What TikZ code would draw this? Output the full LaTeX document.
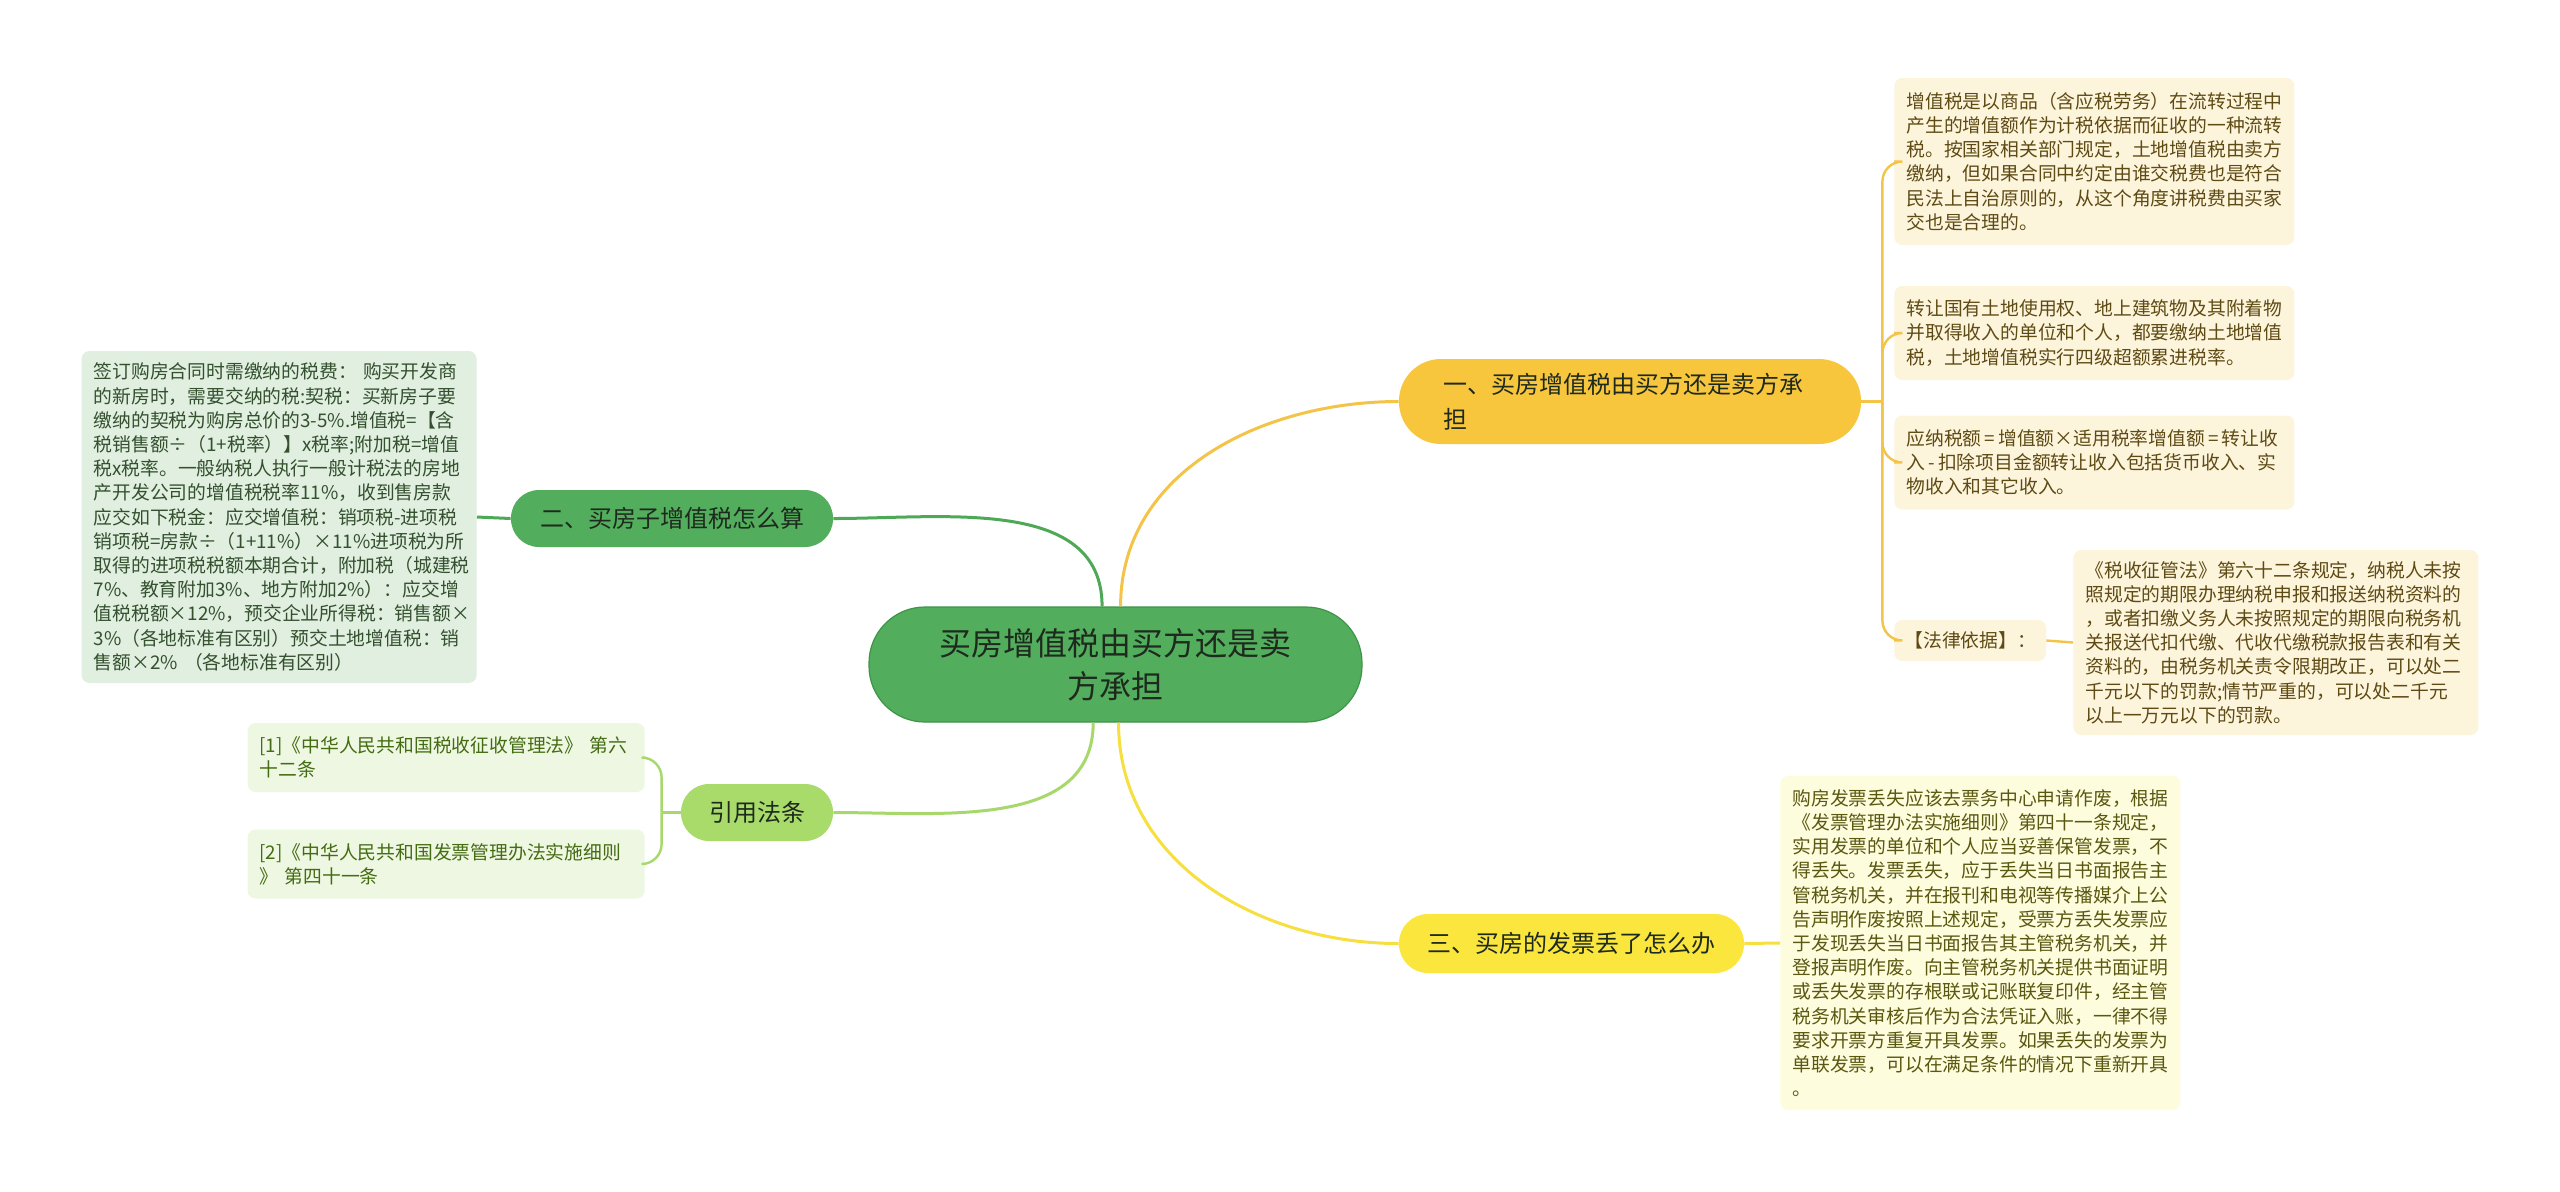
\documentclass[tikz,border=0pt]{standalone}
\usepackage{fontspec}
\setmainfont{Noto Sans CJK SC}
\usepackage{tikz}
\usetikzlibrary{calc}
\definecolor{rootGreen}{HTML}{52AE5C}
\definecolor{rootEdge}{HTML}{3E9447}
\definecolor{darkText}{HTML}{1E2A1E}
\definecolor{goldTopic}{HTML}{F8C63D}
\definecolor{yellowTopic}{HTML}{FAE63C}
\definecolor{limeTopic}{HTML}{A9DB6B}
\definecolor{goldLine}{HTML}{F3C447}
\definecolor{greenLine}{HTML}{4EA957}
\definecolor{yellowLine}{HTML}{F6E040}
\definecolor{limeLine}{HTML}{A7D86C}
\definecolor{creamLeaf}{HTML}{FDF4DC}
\definecolor{paleLeaf}{HTML}{FDFCDD}
\definecolor{mintLeaf}{HTML}{E0EFDF}
\definecolor{limeLeaf}{HTML}{EEF7E2}
\definecolor{brownText}{HTML}{5E4B14}
\definecolor{oliveText}{HTML}{5A5810}
\definecolor{mossText}{HTML}{34502F}
\definecolor{limeText}{HTML}{446C12}

\begin{document}
\begin{tikzpicture}[x=0.5pt, y=-0.5pt,
    rootnode/.style={fill=rootGreen, draw=rootEdge, line width=0.6pt, rounded corners=28pt,
        minimum width=246.5pt, minimum height=57.5pt, text width=180pt, align=center,
        inner sep=0pt, text=darkText, font=\fontsize{16}{21.5}\selectfont},
    topicnode/.style={inner sep=0pt, align=center, text=darkText,
        font=\fontsize{12}{17.5}\selectfont},
    leafnode/.style={rounded corners=4pt, inner xsep=6pt, inner ysep=0pt, align=left,
        text width=188pt, font=\fontsize{9.4}{12.1}\selectfont},
    link/.style={line width=1.5pt},
    brace/.style={line width=1.2pt, rounded corners=10pt}
]
\fill[white] (0,0) rectangle (2560,1191);
\useasboundingbox (0,0) rectangle (2560,1191);

% centre
\node[rootnode] (root) at (1115.5,664.5) {买房增值税由买方还是卖\\方承担};

% topics
\node[topicnode, fill=goldTopic, minimum width=231pt, minimum height=42.5pt,
    rounded corners=21pt, text width=187pt, align=left] (vat) at (1630,401.5)
    {一、买房增值税由买方还是卖方承\\担};
\node[topicnode, fill=rootGreen, minimum width=161pt, minimum height=28.5pt,
    rounded corners=14pt] (calc) at (672,518.5) {二、买房子增值税怎么算};
\node[topicnode, fill=yellowTopic, minimum width=172.5pt, minimum height=29.5pt,
    rounded corners=14.5pt] (invoice) at (1571.5,943.5) {三、买房的发票丢了怎么办};
\node[topicnode, fill=limeTopic, minimum width=76pt, minimum height=28.5pt,
    rounded corners=14pt] (refs) at (757,812.5) {引用法条};

% leaves of topic one
\node[leafnode, fill=creamLeaf, text=brownText, minimum height=83.5pt, anchor=west]
    (vatdef) at (1894,161.5)
    {增值税是以商品（含应税劳务）在流转过程中\\产生的增值额作为计税依据而征收的一种流转\\税。按国家相关部门规定，土地增值税由卖方\\缴纳，但如果合同中约定由谁交税费也是符合\\民法上自治原则的，从这个角度讲税费由买家\\交也是合理的。};
\node[leafnode, fill=creamLeaf, text=brownText, minimum height=47pt, anchor=west]
    (landtax) at (1894,333)
    {转让国有土地使用权、地上建筑物及其附着物\\并取得收入的单位和个人，都要缴纳土地增值\\税，土地增值税实行四级超额累进税率。};
\node[leafnode, fill=creamLeaf, text=brownText, minimum height=47pt, anchor=west]
    (formula) at (1894,462.5)
    {应纳税额\,=\,增值额×适用税率增值额\,=\,转让收\\入\,-\,扣除项目金额转让收入包括货币收入、实\\物收入和其它收入。};
\node[leafnode, fill=creamLeaf, text=brownText, text width=, inner xsep=5pt,
    minimum height=20.5pt, anchor=west] (law) at (1894,640.5) {【法律依据】：};
\node[leafnode, fill=creamLeaf, text=brownText, text width=190.5pt, minimum height=92.5pt,
    anchor=west] (lawtext) at (2073,642.5)
    {《税收征管法》第六十二条规定，纳税人未按\\照规定的期限办理纳税申报和报送纳税资料的\\，或者扣缴义务人未按照规定的期限向税务机\\关报送代扣代缴、代收代缴税款报告表和有关\\资料的，由税务机关责令限期改正，可以处二\\千元以下的罚款;情节严重的，可以处二千元\\以上一万元以下的罚款。};

% leaf of topic two
\node[leafnode, fill=mintLeaf, text=mossText, text width=185.5pt, minimum height=166pt,
    anchor=east] (calctext) at (477,517)
    {签订购房合同时需缴纳的税费：~购买开发商\\的新房时，需要交纳的税:契税：买新房子要\\缴纳的契税为购房总价的3-5\%.增值税=【含\\税销售额÷（1+税率）】x税率;附加税=增值\\税x税率。一般纳税人执行一般计税法的房地\\产开发公司的增值税税率11\%，收到售房款\\应交如下税金：应交增值税：销项税-进项税\\销项税=房款÷（1+11\%）×11\%进项税为所\\取得的进项税税额本期合计，附加税（城建税\\7\%、教育附加3\%、地方附加2\%）：应交增\\值税税额×12\%，预交企业所得税：销售额×\\3\%（各地标准有区别）预交土地增值税：销\\售额×2\%~（各地标准有区别）};

% leaf of topic three
\node[leafnode, fill=paleLeaf, text=oliveText, minimum height=167pt, anchor=west]
    (lost) at (1780,943)
    {购房发票丢失应该去票务中心申请作废，根据\\《发票管理办法实施细则》第四十一条规定，\\实用发票的单位和个人应当妥善保管发票，不\\得丢失。发票丢失，应于丢失当日书面报告主\\管税务机关，并在报刊和电视等传播媒介上公\\告声明作废按照上述规定，受票方丢失发票应\\于发现丢失当日书面报告其主管税务机关，并\\登报声明作废。向主管税务机关提供书面证明\\或丢失发票的存根联或记账联复印件，经主管\\税务机关审核后作为合法凭证入账，一律不得\\要求开票方重复开具发票。如果丢失的发票为\\单联发票，可以在满足条件的情况下重新开具\\。};

% citations
\node[leafnode, fill=limeLeaf, text=limeText, text width=186.5pt, minimum height=34.5pt,
    anchor=east] (cite1) at (645,757.5)
    {[1]《中华人民共和国税收征收管理法》~第六\\十二条};
\node[leafnode, fill=limeLeaf, text=limeText, text width=186.5pt, minimum height=34.5pt,
    anchor=east] (cite2) at (645,864)
    {[2]《中华人民共和国发票管理办法实施细则\\》~第四十一条};

% connectors from the centre
\draw[link, goldLine] (root.85) to[out=90, in=180] (vat.west);
\draw[link, greenLine] (root.103) to[out=90, in=0] (calc.east);
\draw[link, yellowLine] (root.-87) to[out=-90, in=180] (invoice.west);
\draw[link, limeLine] (root.249) to[out=-90, in=0] (refs.east);

% topic one fan
\draw[link, goldLine] (vat.east) -- ++(21,0) coordinate (vatfork);
\foreach \leaf in {vatdef, landtax, formula, law}
    \draw[brace, goldLine] (vatfork) |- (\leaf.west);
\draw[brace, goldLine] (law.east) -- (lawtext.west);

% topic two, three
\draw[link, greenLine] (calc.west) -- (calctext.east);
\draw[link, yellowLine] (invoice.east) -- (lost.west);

% citations fan
\draw[link, limeLine] (refs.west) -- ++(-19,0) coordinate (reffork);
\foreach \leaf in {cite1, cite2}
    \draw[brace, limeLine] (reffork) |- (\leaf.east);
\end{tikzpicture}
\end{document}
